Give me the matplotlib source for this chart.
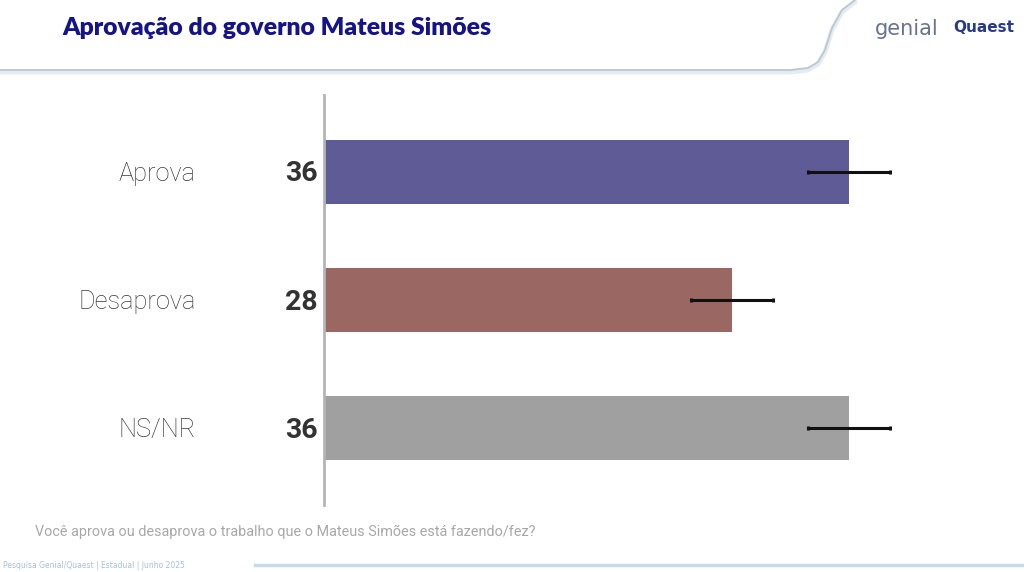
import matplotlib.pyplot as plt

# dados
categorias = ["Aprova", "Desaprova", "NS/NR"]
valores = [36, 28, 36]
erros = [2.8, 2.8, 2.8]
cores = ["#5f5b96", "#9a6762", "#a0a0a0"]

titulo = "Aprovação do governo Mateus Simões"
pergunta = "Você aprova ou desaprova o trabalho que o Mateus Simões está fazendo/fez?"
rodape = "Pesquisa Genial/Quaest | Estadual | Junho 2025"

fig = plt.figure(figsize=(10.24, 5.72), dpi=100)
fig.patch.set_facecolor("white")

# camada de fundo em pixels para cabecalho / rodape
bg = fig.add_axes([0, 0, 1, 1])
bg.set_xlim(0, 1024)
bg.set_ylim(572, 0)
bg.axis("off")

# curva do cabecalho
xs = [0, 790, 808, 818, 825, 832, 842, 855]
ys = [70, 70, 68, 62, 50, 28, 10, 0]
bg.plot(xs, [y + 2 for y in ys], color="#e3ecf2", lw=3.5, solid_capstyle="round")
bg.plot(xs, ys, color="#bcc7cf", lw=1.3)

# linha do rodape
bg.plot([255, 1024], [565, 565], color="#c9dbe8", lw=2.5)
bg.text(3, 565, rodape, fontsize=5.5, color="#a9bfd6", va="center", ha="left")

fig.text(62 / 1024, 1 - 28 / 572, titulo, fontsize=17.8, fontweight="heavy",
         color="#15138a", family="Lato", va="center", ha="left")

# logo
fig.text(875 / 1024, 1 - 29 / 572, "genial", fontsize=15, color="#6a7290",
         family="DejaVu Sans", va="center", ha="left")
fig.text(953 / 1024, 1 - 28 / 572, "Quaest", fontsize=11, fontweight="bold",
         color="#2a3a8a", family="DejaVu Sans", va="center", ha="left")

fig.text(35 / 1024, 1 - 532 / 572, pergunta, fontsize=10.4, color="#a8a8a8",
         family="Roboto", va="center", ha="left")

# grafico
ax = fig.add_axes([324 / 1024, 1 - 505 / 572, 583 / 1024, 410 / 572])
pos = list(range(len(categorias)))
ax.barh(pos, valores, height=0.5, color=cores, zorder=2)
ax.errorbar(valores, pos, xerr=erros, fmt="none", ecolor="#111111",
            elinewidth=2.2, capsize=1.5, capthick=2.2, zorder=3)

ax.set_xlim(0, 40)
ax.set_ylim(2.6, -0.6)
for s in ["top", "right", "bottom"]:
    ax.spines[s].set_visible(False)
ax.spines["left"].set_color("#b5b5b5")
ax.spines["left"].set_linewidth(2)
ax.set_xticks([])
ax.set_yticks([])

for i, (cat, v) in enumerate(zip(categorias, valores)):
    ax.annotate(cat, xy=(0, i), xytext=(196 - 324, -2), textcoords="offset pixels",
                ha="right", va="center", fontsize=18.3, color="#3a3a3a",
                family="Roboto", fontweight="light")
    ax.annotate(str(v), xy=(0, i), xytext=(318 - 324, -2), textcoords="offset pixels",
                ha="right", va="center", fontsize=20.5, color="#333333",
                family="Roboto", fontweight="bold")

fig.savefig("out.png", dpi=100, facecolor="white")
